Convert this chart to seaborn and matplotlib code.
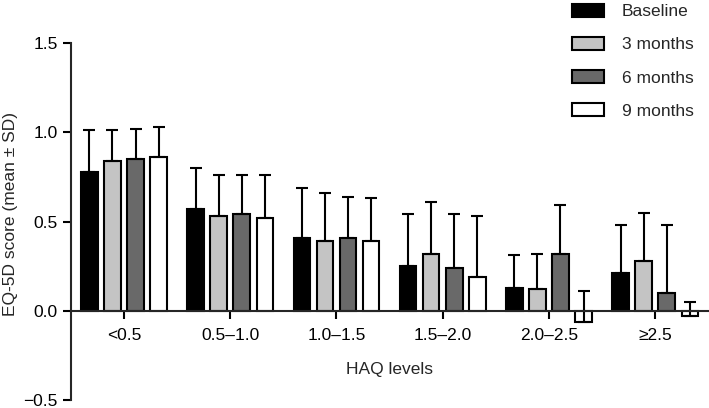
# EQ-5D score by HAQ level across visits, bar chart with upper SD bars
import seaborn as sns
import matplotlib.pyplot as plt
import pandas as pd

haq_levels = ["<0.5", "0.5–1.0", "1.0–1.5", "1.5–2.0", "2.0–2.5", "≥2.5"]
visits = ["Baseline", "3 months", "6 months", "9 months"]

# mean EQ-5D per HAQ level, one list per visit
mean_baseline = [0.78, 0.57, 0.41, 0.25, 0.13, 0.21]
mean_3m = [0.84, 0.53, 0.39, 0.32, 0.12, 0.28]
mean_6m = [0.85, 0.54, 0.41, 0.24, 0.32, 0.10]
mean_9m = [0.86, 0.52, 0.39, 0.19, -0.06, -0.03]

# SD per HAQ level
sd_baseline = [0.23, 0.23, 0.28, 0.29, 0.18, 0.27]
sd_3m = [0.17, 0.23, 0.27, 0.29, 0.20, 0.27]
sd_6m = [0.17, 0.22, 0.23, 0.30, 0.27, 0.38]
sd_9m = [0.17, 0.24, 0.24, 0.34, 0.17, 0.08]

colors = ["#000000", "#c4c4c4", "#696969", "#ffffff"]

means = [mean_baseline, mean_3m, mean_6m, mean_9m]
sds = [sd_baseline, sd_3m, sd_6m, sd_9m]
rows = []
for v, m_list, s_list in zip(visits, means, sds):
    for h, m, s in zip(haq_levels, m_list, s_list):
        rows.append({"haq": h, "visit": v, "mean": m, "sd": s})
df = pd.DataFrame(rows)

sns.set_style("ticks")
plt.rcParams["font.family"] = ["Liberation Sans", "DejaVu Sans"]
fs = 12.5
plt.rcParams["font.size"] = fs

fig = plt.figure(figsize=(7.09, 4.08), dpi=100)
ax = fig.add_axes([0.100, 0.019, 0.899, 0.876])

sns.barplot(data=df, x="haq", y="mean", hue="visit", order=haq_levels,
            hue_order=visits, palette=colors, edgecolor="black",
            linewidth=1.5, width=0.87, gap=0.28, errorbar=None,
            saturation=1, ax=ax)

# upper error bars only
for cont, v in zip(ax.containers, visits):
    sub = df[df["visit"] == v].set_index("haq").loc[haq_levels]
    for bar, m, s in zip(cont, sub["mean"], sub["sd"]):
        xc = bar.get_x() + bar.get_width() / 2
        ax.errorbar(xc, m, yerr=[[0], [s]], fmt="none", ecolor="black",
                    elinewidth=1.5, capsize=4, capthick=1.5, zorder=1)

ax.set_xlim(-0.5, 5.5)
ax.set_ylim(-0.5, 1.5)
ax.set_yticks([-0.5, 0.0, 0.5, 1.0, 1.5])
ax.yaxis.set_major_formatter(plt.FuncFormatter(lambda v, p: f"{v:.1f}".replace("-", "−")))

for side in ["top", "right"]:
    ax.spines[side].set_visible(False)
ax.spines["bottom"].set_position(("data", 0))
ax.spines["left"].set_linewidth(1.5)
ax.spines["bottom"].set_linewidth(1.5)
ax.tick_params(axis="both", width=1.5, length=6, labelsize=fs, colors="black")
ax.tick_params(axis="x", pad=6)

ax.set_xlabel("HAQ levels", fontsize=fs, labelpad=14)
ax.set_ylabel("EQ-5D score (mean ± SD)", fontsize=fs)
ax.yaxis.set_label_coords(-0.083, 0.52)

handles, labels = ax.get_legend_handles_labels()
ax.legend(handles, labels, loc="upper left", bbox_to_anchor=(0.795, 1.012),
          bbox_transform=fig.transFigure, frameon=False, fontsize=fs,
          handlelength=1.85, handleheight=0.8, labelspacing=1.0,
          handletextpad=1.0, borderpad=0)

fig.savefig("out.png", dpi=100)
